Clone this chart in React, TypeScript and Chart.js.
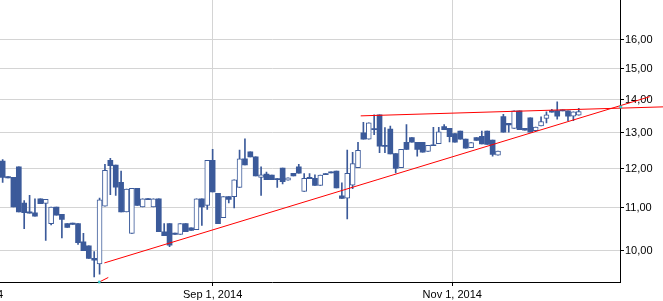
import React, { useEffect, useRef } from 'react';
import { Chart, registerables } from 'chart.js';

Chart.register(...registerables);

// Daily sessions (trading days), index 0 = first visible session
const opens = [
  12.21, 11.79, 11.77, 12.05, 11.12, 10.90, 10.88, 11.22, 11.11, 10.62,
  11.02, 10.84, 10.62, 10.63, 10.62, 10.20, 10.11, 9.83, 9.71, 11.04,
  12.23, 12.10, 11.64, 10.90, 10.39, 11.49, 11.02, 11.23, 11.02, 11.22,
  10.43, 10.62, 10.40, 10.37, 10.62, 10.52, 10.48, 11.22, 11.06, 12.23,
  11.36, 10.76, 11.28, 11.28, 11.51, 12.27, 12.46, 12.32, 11.77, 11.86,
  11.83, 11.74, 12.02, 11.70, 11.88, 12.05, 11.41, 11.77, 11.75, 11.56,
  11.87, 11.92, 11.94, 11.30, 11.24, 11.57, 12.03, 13.00, 12.82, 13.12,
  13.53, 12.64, 13.11, 12.41, 12.03, 12.73, 12.86, 12.73, 12.73, 12.47,
  12.66, 12.69, 13.18, 13.13, 12.98, 13.05, 12.82, 12.58, 12.86, 12.90,
  13.05, 12.79, 12.37, 13.48, 13.28, 13.13, 13.65, 13.13, 13.44, 13.06,
  13.20, 13.42, 13.66, 13.66, 13.68, 13.65, 13.49, 13.52,
];
const highs = [
  12.25, 11.79, 11.77, 12.05, 11.18, 11.31, 11.22, 11.22, 11.21, 11.02,
  11.02, 10.84, 10.62, 10.63, 10.62, 10.39, 10.11, 9.98, 11.24, 12.12,
  12.28, 12.10, 11.94, 11.47, 11.49, 11.49, 11.22, 11.23, 11.22, 11.22,
  10.62, 10.62, 10.40, 10.62, 10.62, 10.52, 11.22, 11.22, 12.23, 12.53,
  11.36, 11.28, 11.28, 11.71, 12.51, 12.83, 12.46, 12.32, 12.05, 11.91,
  11.83, 11.74, 12.02, 11.76, 11.88, 12.12, 11.87, 11.87, 11.84, 11.83,
  11.87, 11.92, 11.94, 11.63, 12.51, 12.45, 12.73, 13.31, 13.29, 13.53,
  13.53, 13.15, 13.20, 12.41, 12.53, 13.24, 12.86, 12.73, 12.73, 12.64,
  13.16, 13.16, 13.24, 13.13, 12.98, 13.05, 12.82, 12.72, 12.86, 13.05,
  13.05, 12.79, 12.48, 13.55, 13.28, 13.65, 13.65, 13.13, 13.44, 13.17,
  13.47, 13.62, 13.70, 13.93, 13.68, 13.65, 13.62, 13.73,
];
const lows = [
  11.64, 11.76, 11.02, 10.90, 10.50, 10.87, 10.80, 11.10, 10.23, 10.59,
  10.82, 10.29, 10.53, 10.60, 10.14, 10.00, 9.83, 9.43, 9.49, 11.04,
  11.33, 11.31, 10.90, 10.90, 10.39, 11.06, 11.02, 11.20, 11.02, 10.43,
  10.34, 10.09, 10.37, 10.37, 10.43, 10.46, 10.48, 10.58, 10.96, 11.40,
  10.62, 10.76, 11.12, 11.00, 11.51, 12.10, 12.32, 11.81, 11.31, 11.71,
  11.71, 11.51, 11.60, 11.70, 11.81, 11.88, 11.41, 11.74, 11.56, 11.56,
  11.84, 11.89, 11.50, 11.23, 10.73, 11.48, 12.03, 12.82, 12.82, 12.95,
  12.44, 12.44, 12.40, 11.89, 12.03, 12.53, 12.73, 12.34, 12.45, 12.47,
  12.63, 12.69, 13.09, 12.74, 12.73, 12.82, 12.56, 12.58, 12.78, 12.68,
  12.67, 12.34, 12.37, 13.02, 13.02, 13.13, 13.09, 13.08, 13.02, 13.06,
  13.20, 13.29, 13.61, 13.40, 13.65, 13.36, 13.36, 13.52,
];
const closes = [
  11.77, 11.76, 11.02, 10.90, 10.88, 10.87, 10.80, 11.10, 11.21, 11.02,
  10.82, 10.72, 10.53, 10.60, 10.18, 10.00, 9.83, 9.79, 11.20, 11.96,
  12.08, 11.52, 10.90, 11.47, 11.49, 11.06, 11.22, 11.20, 11.22, 10.43,
  10.34, 10.12, 10.37, 10.62, 10.43, 10.46, 11.22, 11.02, 12.23, 11.40,
  10.62, 11.28, 11.21, 11.71, 12.27, 12.10, 12.32, 11.81, 11.84, 11.71,
  11.71, 11.71, 11.66, 11.76, 11.81, 11.88, 11.75, 11.74, 11.56, 11.83,
  11.84, 11.89, 11.50, 11.23, 11.88, 12.14, 12.50, 12.82, 13.29, 13.09,
  12.62, 12.61, 12.40, 12.01, 12.53, 12.53, 12.73, 12.53, 12.45, 12.64,
  12.63, 13.03, 13.09, 12.89, 12.73, 12.82, 12.56, 12.72, 12.78, 12.68,
  12.67, 12.39, 12.48, 13.02, 13.23, 13.65, 13.09, 13.08, 13.02, 13.17,
  13.33, 13.53, 13.61, 13.49, 13.65, 13.49, 13.62, 13.63,
];

// Price axis ticks
const yTicks = [10, 11, 12, 13, 14, 15, 16];

// Date axis ticks (session position of each month label)
const xTickLabels = ['Jul 1, 2014', 'Sep 1, 2014', 'Nov 1, 2014'];
const xTickSessions = [-4.9, 39, 83.5];

// Trend lines drawn on the chart (session, price)
const supportLine = [
  { x: 18.89, y: 9.73 },
  { x: 120.2, y: 14.09 },
];
const resistanceLine = [
  { x: 66.5, y: 13.5 },
  { x: 124, y: 13.78 },
];
const lowerStub = [
  { x: 17.96, y: 9.325 },
  { x: 19.62, y: 9.42 },
];
const anchorPoints = [
  { x: 17.96, y: 9.325 },
  { x: 114.8, y: 13.77 },
];

const BLUE = '#3b5a9a';
const RED = '#ff0000';
const GRID = '#d4d4d4';

export default function App() {
  const ref = useRef<HTMLCanvasElement>(null);

  useEffect(() => {
    document.body.style.overflow = 'hidden';
    Chart.defaults.font.family = '"Liberation Sans", Arial, sans-serif';
    Chart.defaults.font.size = 11;
    Chart.defaults.color = '#000';

    const idx = opens.map((_, i) => i);
    const up = idx.map((i) => closes[i] > opens[i]);

    const chart = new Chart(ref.current as HTMLCanvasElement, {
      type: 'bar',
      data: {
        datasets: [
          {
            type: 'line',
            data: anchorPoints,
            showLine: false,
            pointStyle: 'rect',
            pointRadius: 1.5,
            pointBackgroundColor: '#22e0e0',
            pointBorderColor: '#3aa0a0',
            pointBorderWidth: 0.5,
            clip: false,
            order: 0,
          } as any,
          {
            type: 'line',
            data: supportLine,
            borderColor: RED,
            borderWidth: 1,
            pointRadius: 0,
            clip: false,
            order: 1,
          } as any,
          {
            type: 'line',
            data: resistanceLine,
            borderColor: RED,
            borderWidth: 1,
            pointRadius: 0,
            clip: false,
            order: 1,
          } as any,
          {
            type: 'line',
            data: lowerStub,
            borderColor: RED,
            borderWidth: 1,
            pointRadius: 0,
            clip: false,
            order: 1,
          } as any,
          {
            type: 'bar',
            data: idx.map((i) => ({ x: i, y: [opens[i], closes[i]] })),
            backgroundColor: up.map((u) => (u ? '#ffffff' : BLUE)),
            borderColor: BLUE,
            borderWidth: up.map((u) => (u ? 1 : 0)),
            borderSkipped: false,
            grouped: false,
            maxBarThickness: 5,
            barPercentage: 1,
            categoryPercentage: 1,
            order: 2,
          } as any,
          {
            type: 'bar',
            data: idx.map((i) => ({ x: i, y: [lows[i], highs[i]] })),
            backgroundColor: BLUE,
            borderWidth: 0,
            grouped: false,
            maxBarThickness: 1,
            barPercentage: 1,
            categoryPercentage: 1,
            order: 3,
          } as any,
        ],
      },
      options: {
        animation: false,
        responsive: true,
        maintainAspectRatio: false,
        events: [],
        layout: { padding: { left: 0, right: 0, top: 0, bottom: 6.8 } },
        plugins: {
          legend: { display: false },
          tooltip: { enabled: false },
        },
        scales: {
          x: {
            type: 'linear',
            min: -14.516,
            max: 114.66,
            offset: false,
            afterBuildTicks: (s: any) => {
              s.ticks = xTickSessions.map((v) => ({ value: v }));
            },
            ticks: {
              autoSkip: false,
              maxRotation: 0,
              padding: 2,
              color: '#000',
              font: { size: 11 },
              callback: (_v: any, i: number) => xTickLabels[i],
            },
            grid: {
              offset: false,
              color: GRID,
              tickColor: '#000',
              tickLength: 4,
            },
            border: { display: true, color: '#000', width: 1 },
          },
          y: {
            type: 'logarithmic',
            position: 'right',
            min: 9.3253,
            max: 17.568,
            beginAtZero: false,
            afterBuildTicks: (s: any) => {
              s.ticks = yTicks.map((v) => ({ value: v }));
            },
            afterFit: (s: any) => {
              s.width = 43;
            },
            ticks: {
              padding: 1,
              color: '#000',
              font: { size: 11 },
              callback: (v: any) => Number(v).toFixed(2).replace('.', ','),
            },
            grid: { color: GRID, tickColor: '#000', tickLength: 4 },
            border: { display: true, color: '#000', width: 1 },
          },
        },
      } as any,
    });
    return () => chart.destroy();
  }, []);

  return (
    <div
      style={{
        position: 'fixed',
        left: -80,
        top: -10,
        width: 743,
        height: 320,
        background: '#fff',
      }}
    >
      <canvas ref={ref} />
    </div>
  );
}
